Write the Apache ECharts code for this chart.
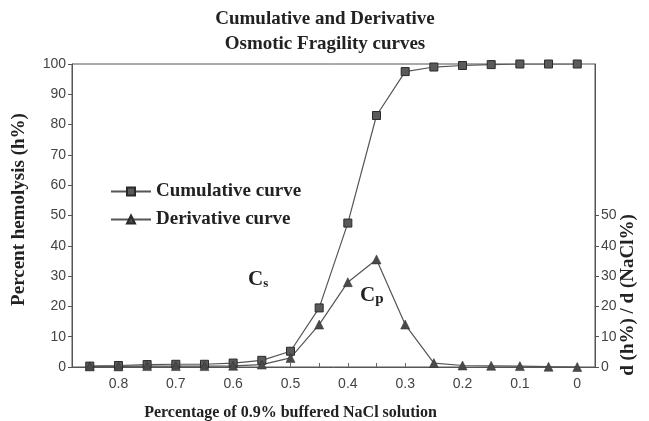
<!DOCTYPE html>
<html>
<head>
  <meta charset="utf-8">
  <title>Osmotic Fragility</title>
  <script src="https://cdn.jsdelivr.net/npm/echarts@6/dist/echarts.min.js"></script>
  <style>
    body { margin: 0; background: #fff; }
  </style>
</head>
<body>
  <div id="chart" style="width: 649px; height: 421px;"></div>
  <script>
    // NaCl concentrations (as fraction of 0.9% solution)
    var nacl = [0.85, 0.8, 0.75, 0.7, 0.65, 0.6, 0.55, 0.5, 0.45, 0.4, 0.35, 0.3, 0.25, 0.2, 0.15, 0.1, 0.05, 0];
    var cumulative = [0.3, 0.5, 0.8, 0.9, 0.9, 1.3, 2.2, 5.2, 19.5, 47.5, 83, 97.5, 99, 99.5, 99.8, 100, 100, 100];
    var derivative = [0.2, 0.2, 0.3, 0.3, 0.3, 0.4, 0.8, 3, 14, 28, 35.5, 14, 1.3, 0.5, 0.4, 0.3, 0.1, 0];
    var xLabels = [0.8, 0.7, 0.6, 0.5, 0.4, 0.3, 0.2, 0.1, 0];
    var leftTicks = [0, 10, 20, 30, 40, 50, 60, 70, 80, 90, 100];
    var rightTicks = [0, 10, 20, 30, 40, 50];

    function pairs(ys) {
      var out = [];
      for (var i = 0; i < nacl.length; i++) out.push([nacl[i], ys[i]]);
      return out;
    }

    var serif = '"Liberation Serif", "DejaVu Serif", serif';
    var sans = '"Liberation Sans", Arial, sans-serif';

    var chart = echarts.init(document.getElementById('chart'));
    var option = {
      animation: false,
      backgroundColor: '#fff',
      title: {
        text: 'Cumulative and Derivative\nOsmotic Fragility curves',
        left: 320,
        textAlign: 'center',
        top: 2,
        textStyle: { fontFamily: serif, fontWeight: 'bold', fontSize: 19, color: '#222', lineHeight: 25 }
      },
      legend: {
        left: 105,
        top: 177,
        orient: 'vertical',
        itemGap: 9,
        itemWidth: 40,
        itemHeight: 10,
        textStyle: { fontFamily: serif, fontWeight: 'bold', fontSize: 19, color: '#222' },
        data: ['Cumulative curve', 'Derivative curve']
      },
      grid: {
        left: 72, right: 54, top: 64, bottom: 54,
        outerBoundsMode: 'none',
        containLabel: false,
        show: true, borderColor: '#555', borderWidth: 1
      },
      xAxis: {
        type: 'value',
        inverse: true,
        min: -0.031,
        max: 0.881,
        name: 'Percentage of 0.9% buffered NaCl solution',
        nameLocation: 'middle',
        nameGap: 38,
        nameTextStyle: { fontFamily: serif, fontWeight: 'bold', fontSize: 16, color: '#222', padding: [0, 86, 0, 0] },
        splitLine: { show: false },
        axisLine: { lineStyle: { color: '#555' } },
        axisTick: {
          inside: true, length: 4, lineStyle: { color: '#666' },
          customValues: [0.85, 0.8, 0.75, 0.7, 0.65, 0.6, 0.55, 0.5, 0.45, 0.4, 0.35, 0.3, 0.25, 0.2, 0.15, 0.1, 0.05, 0]
        },
        axisLabel: {
          customValues: xLabels,
          margin: 10,
          fontFamily: sans, fontSize: 14, color: '#444',
          formatter: function (v) { return String(Math.round(v * 10) / 10); }
        }
      },
      yAxis: [
        {
          type: 'value',
          min: 0, max: 100, interval: 10,
          name: 'Percent hemolysis (h%)',
          nameLocation: 'middle',
          nameGap: 43,
          nameTextStyle: { fontFamily: serif, fontWeight: 'bold', fontSize: 19, color: '#222', padding: [0, 0, 0, 12] },
          splitLine: { show: false },
          axisLine: { show: true, onZero: false, lineStyle: { color: '#555' } },
          axisTick: { show: true, length: 4, lineStyle: { color: '#555' }, customValues: leftTicks },
          axisLabel: { customValues: leftTicks, margin: 6, fontFamily: sans, fontSize: 14, color: '#444' }
        },
        {
          type: 'value',
          position: 'right',
          min: 0, max: 100, interval: 10,
          splitLine: { show: false },
          axisLine: { show: true, onZero: false, lineStyle: { color: '#555' } },
          axisTick: { show: true, length: 4, lineStyle: { color: '#555' }, customValues: rightTicks },
          axisLabel: { customValues: rightTicks, margin: 6, fontFamily: sans, fontSize: 14, color: '#444' }
        }
      ],
      graphic: [
        {
          type: 'text', x: 628, y: 295, rotation: Math.PI / 2,
          style: {
            text: 'd (h%) / d (NaCl%)',
            align: 'center', verticalAlign: 'middle',
            font: 'bold 19px ' + serif, fill: '#222'
          }
        },
        {
          type: 'text', x: 248, y: 269,
          style: {
            text: '{b|C}{s|s}',
            rich: {
              b: { fontFamily: serif, fontWeight: 'bold', fontSize: 21, fill: '#222' },
              s: { fontFamily: serif, fontWeight: 'bold', fontSize: 13, fill: '#222', padding: [8, 0, 0, 0] }
            }
          }
        },
        {
          type: 'text', x: 360, y: 284,
          style: {
            text: '{b|C}{s|p}',
            rich: {
              b: { fontFamily: serif, fontWeight: 'bold', fontSize: 21, fill: '#222' },
              s: { fontFamily: serif, fontWeight: 'bold', fontSize: 15, fill: '#222', padding: [8, 0, 0, 0] }
            }
          }
        }
      ],
      series: [
        {
          name: 'Cumulative curve',
          type: 'line',
          yAxisIndex: 0,
          data: pairs(cumulative),
          symbol: 'rect',
          symbolSize: 8,
          itemStyle: { color: '#5a5a5a', borderColor: '#2a2a2a', borderWidth: 1 },
          lineStyle: { color: '#555', width: 1.2 }
        },
        {
          name: 'Derivative curve',
          type: 'line',
          yAxisIndex: 1,
          data: pairs(derivative),
          symbol: 'triangle',
          symbolSize: 9,
          itemStyle: { color: '#4a4a4a', borderColor: '#2a2a2a', borderWidth: 0.5 },
          lineStyle: { color: '#555', width: 1.2 }
        }
      ]
    };
    chart.setOption(option);
  </script>
</body>
</html>
